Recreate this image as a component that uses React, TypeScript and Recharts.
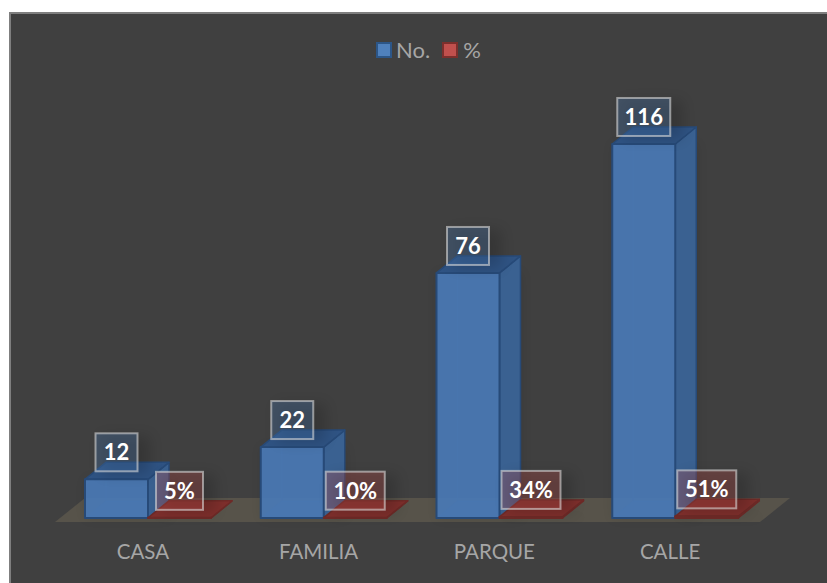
import React from "react";
import { BarChart, Bar, XAxis, YAxis, Legend, LabelList, ReferenceArea } from "recharts";

const categories = ["CASA", "FAMILIA", "PARQUE", "CALLE"];
const counts = [12, 22, 76, 116];
const shares = [0.05, 0.1, 0.34, 0.51];
const data = categories.map((name, i) => ({ name, count: counts[i], share: shares[i] }));

const DX = 21;
const DY = -17;

const Box3D = (p: any) => {
  const { x, y, width: w, height: h, front, top, side, edge } = p;
  const b = y + h;
  return (
    <g strokeLinejoin="round">
      <rect x={x + 1} y={y} width={w + DX} height={h} fill="#000" opacity={0.1} style={{ filter: "blur(6px)" }} />
      <path d={`M${x},${b} L${x + DX},${b + DY} L${x + DX + w},${b + DY} L${x + w},${b} Z`} fill={top} fillOpacity={0.45} stroke="none" />
      <path d={`M${x + DX},${y + DY} V${b + DY} H${x + DX + w} M${x + DX},${b + DY} L${x},${b}`} fill="none" stroke={edge} strokeOpacity={0.35} strokeWidth={1} />
      <path d={`M${x + w},${y} L${x + w + DX},${y + DY} V${b + DY} L${x + w},${b} Z`} fill={side} stroke={edge} strokeWidth={1.5} />
      <path d={`M${x},${y} L${x + DX},${y + DY} H${x + DX + w} L${x + w},${y} Z`} fill={top} stroke={edge} strokeWidth={1.5} />
      <rect x={x} y={y} width={w} height={h} fill={front} fillOpacity={0.92} stroke={edge} strokeWidth={2} />
    </g>
  );
};

const CountBar = (p: any) => <Box3D {...p} front="#4a7ab6" top="#2f5383" side="#3a6191" edge="#274a78" />;
const ShareBar = (p: any) => <Box3D {...p} front="#8d3531" top="#7e2f2c" side="#7e2f2c" edge="#6e2a27" />;

const makeLabel = (tint: string, format: (v: number) => string) => (p: any) => {
  const { x, y, width, value } = p;
  const text = format(Number(value));
  const bw = text.length === 2 ? (text.endsWith("%") ? 47 : 42) : text.length === 3 ? (text.endsWith("%") ? 59 : 53) : 59;
  const cx = x + width / 2;
  const bh = 38;
  const by = y - 8 - bh;
  return (
    <g>
      <rect x={cx - bw / 2 + 6} y={by + 3} width={bw + 6} height={bh} fill="#000" opacity={0.16} style={{ filter: "blur(7px)" }} />
      <rect x={cx - bw / 2} y={by} width={bw} height={bh} fill={tint} fillOpacity={0.3} stroke="#d9d9d9" strokeOpacity={0.6} strokeWidth={2} />
      <text x={cx} y={by + bh / 2 + 8} textAnchor="middle" fontFamily="Lato, sans-serif" fontWeight={700} fontSize={22} fill="#ffffff">
        {text}
      </text>
    </g>
  );
};

const CountLabel = makeLabel("#4a7ab6", (v) => String(v));
const ShareLabel = makeLabel("#c0504d", (v) => `${Math.round(v * 100)}%`);

const CategoryTick = (p: any) => (
  <text x={p.x - 5} y={p.y + 33} textAnchor="middle" fontFamily="Lato, sans-serif" fontSize={20.5} fill="#a6a6a6">
    {p.payload.value}
  </text>
);

const Floor = (p: any) => {
  const { x, y, width, height } = p;
  const b = y + height;
  const l = x - 5;
  const r = x + width - 3;
  return <path d={`M${l},${b + 4} L${l + 30},${b - 20} H${r + 30} L${r},${b + 4} Z`} fill="#57534a" />;
};

const LegendContent = () => (
  <div style={{ position: "absolute", left: 367, top: 25, display: "flex", alignItems: "center", fontFamily: "Lato, sans-serif", fontSize: 22, color: "#a6a6a6", lineHeight: "26px" }}>
    <span style={{ width: 12, height: 12, background: "#4f81bd", border: "2px solid #2c5688", marginRight: 4 }} />
    <span style={{ marginRight: 12 }}>No.</span>
    <span style={{ width: 12, height: 12, background: "#c0504d", border: "2px solid #7c2f2c", marginRight: 5 }} />
    <span>%</span>
  </div>
);

export default function App() {
  return (
    <div style={{ position: "absolute", left: 9, top: 12, width: 818, height: 571, background: "#404040", boxShadow: "inset 2px 2px 0 #7f7f7f", overflow: "hidden" }}>
      <BarChart
        width={818}
        height={571}
        data={data}
        margin={{ top: 54.6, right: 64, bottom: 25, left: 51 }}
        barGap={0}
        barSize={63}
      >
        <XAxis dataKey="name" axisLine={false} tickLine={false} height={40} tick={<CategoryTick />} interval={0} />
        <YAxis hide domain={[0, 140]} />
        <Legend verticalAlign="top" wrapperStyle={{ top: 0, left: 0 }} content={<LegendContent />} />
        <ReferenceArea y1={0} y2={140} shape={<Floor />} />
        <Bar dataKey="count" name="No." fill="#4f81bd" shape={<CountBar />} isAnimationActive={false}>
          <LabelList dataKey="count" content={<CountLabel />} />
        </Bar>
        <Bar dataKey="share" name="%" fill="#c0504d" shape={<ShareBar />} isAnimationActive={false}>
          <LabelList dataKey="share" content={<ShareLabel />} />
        </Bar>
      </BarChart>
    </div>
  );
}
